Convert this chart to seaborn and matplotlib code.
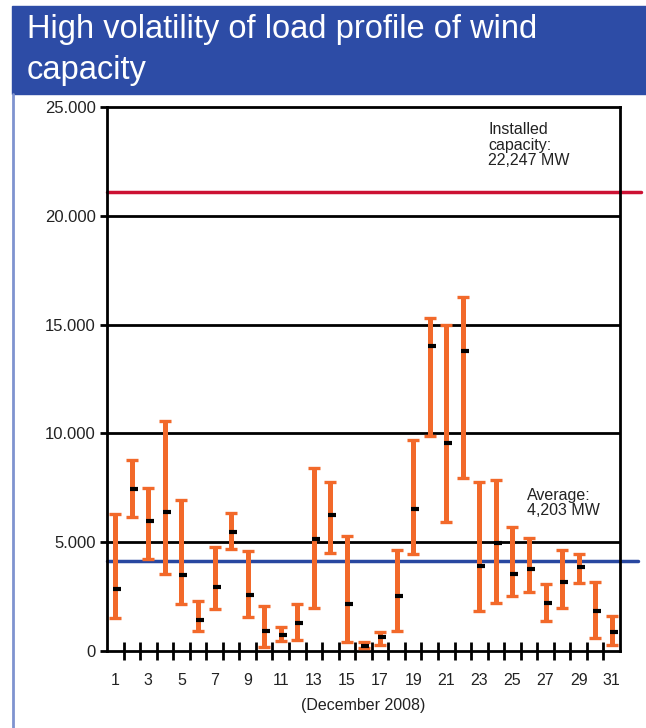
import numpy as np
import pandas as pd
import matplotlib
matplotlib.use("Agg")
import matplotlib.pyplot as plt
from matplotlib.ticker import FuncFormatter, MultipleLocator, FixedLocator
from matplotlib.patches import Rectangle
from matplotlib.lines import Line2D
import seaborn as sns

# daily wind feed-in, December 2008 (MW)
days = list(range(1, 32))
day_max = [6300, 8800, 7500, 10550, 6950, 2300, 4800, 6330, 4600, 2050, 1100,
           2150, 8400, 7750, 5300, 420, 870, 4650, 9700, 15300, 15000, 16250,
           7750, 7850, 5700, 5200, 3070, 4630, 4450, 3170, 1600]
day_min = [1500, 6150, 4220, 3530, 2160, 920, 1930, 4680, 1560, 180, 460,
           500, 1970, 4500, 410, 140, 280, 920, 4450, 9900, 5950, 7930,
           1830, 2200, 2520, 2700, 1380, 1970, 3120, 600, 280]
day_mean = [2850, 7430, 5960, 6380, 3490, 1420, 2940, 5460, 2570, 920, 730,
            1280, 5140, 6240, 2160, 230, 640, 2520, 6510, 14000, 9540, 13780,
            3900, 4950, 3530, 3760, 2200, 3170, 3850, 1830, 870]
installed_line = 21100
average_line = 4120

df = pd.DataFrame({"day": days, "max": day_max, "min": day_min, "mean": day_mean})

sns.set_style("white")
plt.rcParams["font.family"] = ["Liberation Sans", "DejaVu Sans"]

fig = plt.figure(figsize=(6.46, 7.28), dpi=100)

# title band and frame line
fig.patches.append(Rectangle((12 / 646, 1 - 94 / 728), 1 - 12 / 646, 88 / 728,
                             transform=fig.transFigure, color="#2d4ca6", zorder=0))
fig.lines.append(Line2D([13 / 646, 13 / 646], [0, 1 - 94 / 728], transform=fig.transFigure,
                        color="#7f93cf", lw=2))
fig.text(27 / 646, 1 - 50 / 728, "High volatility of load profile of wind\ncapacity",
         color="white", fontsize=23.5, va="center", ha="left", linespacing=1.38,
         transform=fig.transFigure)

ax = fig.add_axes([107 / 646, 77 / 728, 513 / 646, 544 / 728])

ax.errorbar(df["day"], df["mean"],
            yerr=[df["mean"] - df["min"], df["max"] - df["mean"]],
            fmt="none", ecolor="#f2692a", elinewidth=3.6, capsize=4.3, capthick=2.4,
            zorder=3)
sns.scatterplot(x=df["day"] + 0.12, y=df["mean"], marker="_", s=40, linewidth=3,
                color="black", ax=ax, zorder=4)

for y in [5000, 10000, 15000, 20000]:
    ax.axhline(y, color="black", lw=2, zorder=1)
ax.plot([0, 1.04], [installed_line] * 2, transform=ax.get_yaxis_transform(),
        color="#cc1133", lw=2.5, clip_on=False, zorder=2)
ax.plot([0, 1.035], [average_line] * 2, transform=ax.get_yaxis_transform(),
        color="#2847a0", lw=2.5, clip_on=False, zorder=2)

ax.text(23.55, 24300, "Installed\ncapacity:\n22,247 MW", fontsize=11.5, va="top",
        ha="left", color="#222222", linespacing=1.05)
ax.text(25.9, 7500, "Average:\n4,203 MW", fontsize=11.5, va="top", ha="left",
        color="#222222", linespacing=1.05)

ax.set_xlim(0.5, 31.5)
ax.set_ylim(0, 25000)
ax.yaxis.set_major_locator(MultipleLocator(5000))
ax.yaxis.set_major_formatter(FuncFormatter(lambda v, p: "0" if v == 0 else f"{int(v):,}".replace(",", ".")))
ax.xaxis.set_major_locator(FixedLocator(days[::2]))
ax.xaxis.set_minor_locator(FixedLocator(np.arange(1.5, 31.5, 1.0)))
ax.tick_params(axis="x", which="major", bottom=True, length=0, pad=16, labelsize=11.5,
               colors="#222222")
ax.tick_params(axis="x", which="minor", bottom=True, direction="inout", length=13, width=2,
               color="black")
ax.tick_params(axis="y", which="major", left=True, direction="out", length=5, width=2, pad=3,
               labelsize=12, labelcolor="#222222", color="black")
ax.set_xlabel("(December 2008)", fontsize=11.5, color="#222222", labelpad=7)
ax.set_ylabel("")
for s in ax.spines.values():
    s.set_linewidth(2)
    s.set_color("black")

fig.savefig("out.png", dpi=100)
